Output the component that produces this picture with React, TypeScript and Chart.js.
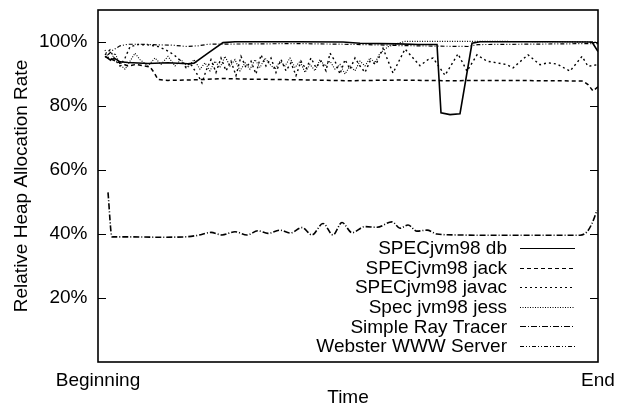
import React, { useEffect, useRef } from 'react';
import { Chart, registerables } from 'chart.js';

Chart.register(...registerables);

const FONT_FAMILY = '"Liberation Sans", Arial, Helvetica, sans-serif';

// ---- axis / labels ----
const yTickValues = [20, 40, 60, 80, 100];
const xTickValues = [0, 500];
const xTickLabels = ['Beginning', 'End'];
const xTitle = 'Time';
const yTitle = 'Relative Heap Allocation Rate';

const seriesLabels = [
  'SPECjvm98 db',
  'SPECjvm98 jack',
  'SPECjvm98 javac',
  'Spec jvm98 jess',
  'Simple Ray Tracer',
  'Webster WWW Server',
];

// ---- data: [time, rate %] ----
const dbPoints: [number, number][] = [
  [7, 95.5], [12, 94.5], [17, 94.8], [22, 93.8], [30, 93.6], [50, 93.3], [70, 93.5], [90, 93.2], [96, 93.4],
  [110, 96.5], [125, 99.8], [137, 100.1], [200, 100.1], [245, 100], [262, 99.6], [300, 99.4], [320, 99.2],
  [339, 99.2], [343, 77.9], [352, 77.3], [362, 77.6], [374, 99.6], [382, 100.1], [450, 100.1], [494, 100], [500, 97],
];

const jackPoints: [number, number][] = [
  [7, 95.5], [14, 94.5], [22, 93.5], [30, 92.5], [38, 93], [45, 92.6], [52, 92.2], [56, 90.5], [60, 88.3],
  [70, 88], [100, 88.2], [125, 88.6], [150, 88.4], [200, 88.2], [250, 87.9], [300, 88.1], [350, 87.9],
  [400, 88], [450, 87.9], [485, 87.8], [490, 86.7], [495, 84.7], [500, 86],
];

const javacPoints: [number, number][] = [
  [7, 96], [12, 97.5], [17, 94.5], [22, 92.5], [27, 95], [32, 98.5], [40, 99.2], [50, 99.1], [60, 98.6],
  [68, 97.5], [76, 96], [83, 94], [88, 92], [92, 93.5], [97, 91], [101, 89], [104, 87.2], [108, 91],
  [113, 94.5], [118, 90.5], [123, 95], [128, 91], [133, 94], [138, 89.5], [143, 95.5], [148, 92], [153, 94],
  [158, 90], [163, 96], [168, 92.5], [173, 95], [178, 90.5], [183, 94.5], [188, 91], [193, 93.5], [198, 89.5],
  [203, 94], [208, 91.5], [213, 95], [218, 92], [223, 94], [228, 91], [232, 96.5], [237, 94], [242, 90],
  [247, 94.5], [252, 91.5], [257, 95], [262, 92.5], [267, 90.5], [272, 94], [278, 93],
  [285, 98], [295, 90.3], [307, 97.8], [322, 92.6], [330, 94.5], [335, 95], [347, 89.6], [360, 96.3],
  [369, 90.9], [379, 96], [389, 94], [399, 93.5], [409, 92.9], [415, 91.9], [430, 96], [442, 92.9],
  [450, 93.5], [459, 93.1], [472, 90.9], [484, 95.5], [490, 92.4], [499, 92.9],
];

const jessPoints: [number, number][] = [
  [7, 97.5], [12, 94], [17, 96.5], [22, 93], [27, 91.5], [32, 94], [37, 96.5], [42, 94.5], [50, 92.5],
  [57, 95], [63, 93], [70, 95.5], [77, 92.5], [83, 94.5], [90, 92], [96, 94.5], [102, 91.5], [107, 93.5],
  [112, 91], [117, 94], [122, 92], [127, 95.5], [132, 92.5], [137, 94.5], [142, 91], [147, 93.5], [152, 91.5],
  [157, 94.5], [162, 92], [167, 95], [172, 93], [177, 91.5], [182, 94], [187, 92.5], [192, 95], [197, 92],
  [202, 94], [207, 90.5], [212, 93], [217, 91], [222, 94.5], [227, 92.5], [232, 94], [237, 91.5], [242, 93],
  [247, 90], [252, 92.5], [257, 91], [262, 94], [267, 92.5], [272, 95], [277, 93.5], [282, 96.5], [290, 98.5],
  [300, 99.6], [307, 100.2], [350, 100.2], [400, 100.2], [450, 100.1], [500, 100],
];

const rayPoints: [number, number][] = [
  [10, 53], [14, 39.1], [30, 39.1], [60, 39], [87, 39.1], [100, 39.6], [113, 40.5], [124, 39.7], [137, 40.7],
  [149, 39.7], [160, 41.0], [170, 40.2], [182, 41.2], [192, 40.3], [204, 42.0], [214, 39.7], [225, 43.3],
  [235, 39.7], [244, 43.6], [254, 40.4], [267, 42.3], [279, 42.1], [294, 43.8], [302, 41.8], [310, 42.8],
  [319, 40.9], [329, 41.2], [339, 40.0], [359, 39.7], [400, 39.6], [450, 39.6], [482, 39.6], [489, 40.7],
  [494, 43.3], [499, 47.4],
];

const websterPoints: [number, number][] = [
  [10, 96], [15, 97.5], [22, 98.8], [30, 99.3], [45, 99.3], [60, 99.1], [75, 99], [88, 98.6], [100, 98.8],
  [110, 99.3], [150, 99.4], [200, 99.5], [245, 99.3], [280, 99.1], [300, 98.9], [340, 98.7], [370, 98.6],
  [380, 99.2], [420, 99.3], [460, 99.4], [490, 99.5], [500, 99.5],
];

const seriesPoints = [dbPoints, jackPoints, javacPoints, jessPoints, rayPoints, websterPoints];
const seriesDashes: number[][] = [[], [4, 3], [2, 3], [1, 1.5], [6, 2, 1, 2], [4, 2, 1, 2, 1, 2]];
const seriesWidths = [1.6, 1.5, 1.4, 1.1, 1.6, 1.2];

const font = { family: FONT_FAMILY, size: 19 };

const framePlugin = {
  id: 'gnuplotFrame',
  afterDraw(chart: any) {
    const { ctx, chartArea } = chart;
    const { left, right, top, bottom } = chartArea;
    const yScale = chart.scales.y;
    ctx.save();
    ctx.strokeStyle = '#000';
    ctx.lineWidth = 1.6;
    ctx.setLineDash([]);
    ctx.strokeRect(left, top, right - left, bottom - top);
    // inward tick marks on both sides
    ctx.lineWidth = 1.2;
    yTickValues.forEach((v) => {
      const y = Math.round(yScale.getPixelForValue(v)) + 0.5;
      ctx.beginPath();
      ctx.moveTo(left, y);
      ctx.lineTo(left + 8, y);
      ctx.moveTo(right, y);
      ctx.lineTo(right - 8, y);
      ctx.stroke();
    });
    // legend (text right-aligned, sample to the right)
    ctx.font = `19px ${FONT_FAMILY}`;
    ctx.fillStyle = '#000';
    ctx.textAlign = 'right';
    ctx.textBaseline = 'middle';
    chart.data.datasets.forEach((ds: any, i: number) => {
      const y = 248 + i * 19.6;
      ctx.fillText(ds.label, 507, y + 1);
      ctx.beginPath();
      ctx.lineWidth = 1;
      ctx.setLineDash(ds.borderDash || []);
      ctx.moveTo(520, Math.round(y) + 0.5);
      ctx.lineTo(575, Math.round(y) + 0.5);
      ctx.stroke();
    });
    ctx.restore();
  },
};

export default function App() {
  const ref = useRef<HTMLCanvasElement>(null);

  useEffect(() => {
    const canvas = ref.current;
    if (!canvas) return;
    const chart = new Chart(canvas, {
      type: 'line',
      data: {
        datasets: seriesLabels.map((label, i) => ({
          label,
          data: seriesPoints[i].map(([x, y]) => ({ x, y })),
          borderColor: '#000',
          backgroundColor: '#000',
          borderWidth: seriesWidths[i],
          borderDash: seriesDashes[i],
          pointRadius: 0,
          fill: false,
          tension: 0,
          cubicInterpolationMode: i === 4 ? 'monotone' : 'default',
        })),
      },
      options: {
        animation: false,
        responsive: false,
        maintainAspectRatio: false,
        devicePixelRatio: 1,
        layout: { padding: { top: 10, right: 24, left: 0, bottom: 0 } },
        plugins: { legend: { display: false }, tooltip: { enabled: false } },
        scales: {
          x: {
            type: 'linear',
            min: 0,
            max: 500,
            grid: { display: false, drawTicks: false },
            border: { display: false },
            afterBuildTicks: (s: any) => {
              s.ticks = xTickValues.map((value) => ({ value }));
            },
            afterFit: (s: any) => {
              s.height = 50;
              s.paddingLeft = 0;
              s.paddingRight = 0;
            },
            ticks: {
              autoSkip: false,
              maxRotation: 0,
              padding: 7,
              color: '#000',
              font,
              callback: (v: any) => {
                const idx = xTickValues.indexOf(Number(v));
                return idx >= 0 ? xTickLabels[idx] : '';
              },
            },
            title: { display: true, text: xTitle, color: '#000', font, padding: { top: 0, bottom: 3 } },
          },
          y: {
            type: 'linear',
            min: 0,
            max: 110,
            grid: { display: false, drawTicks: false },
            border: { display: false },
            afterBuildTicks: (s: any) => {
              s.ticks = yTickValues.map((value) => ({ value }));
            },
            afterFit: (s: any) => {
              s.width = 98;
              s.paddingTop = 0;
              s.paddingBottom = 0;
            },
            ticks: {
              padding: 10.5,
              color: '#000',
              font,
              callback: (v: any) => `${v}%`,
            },
            title: { display: true, text: yTitle, color: '#000', font, padding: { top: 10, bottom: 0 } },
          },
        },
      },
      plugins: [framePlugin],
    } as any);
    return () => chart.destroy();
  }, []);

  return (
    <div style={{ position: 'fixed', left: 0, top: 0, width: 622, height: 412, background: '#fff' }}>
      <canvas ref={ref} width={622} height={412} style={{ display: 'block', width: 622, height: 412 }} />
    </div>
  );
}
